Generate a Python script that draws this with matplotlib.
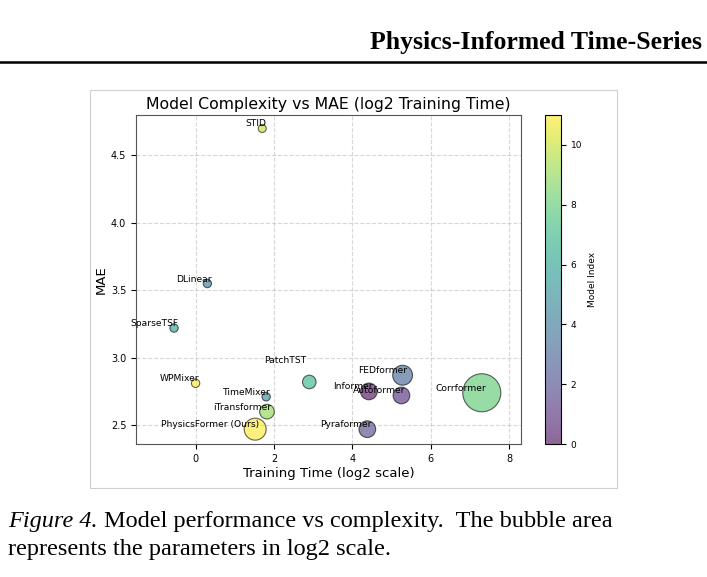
import matplotlib
matplotlib.use("Agg")
import matplotlib.pyplot as plt
from matplotlib.patches import Rectangle

models = ["Informer", "Autoformer", "Pyraformer", "FEDformer", "DLinear", "TimeMixer",
          "SparseTSF", "PatchTST", "Corrformer", "iTransformer", "STID", "WPMixer",
          "PhysicsFormer (Ours)"]
log2_time = [4.42, 5.25, 4.38, 5.28, 0.30, 1.80, -0.55, 2.90, 7.30, 1.82, 1.70, 0.00, 1.52]
mae = [2.75, 2.72, 2.47, 2.87, 3.55, 2.71, 3.22, 2.82, 2.74, 2.60, 4.70, 2.81, 2.47]
bubble = [145, 145, 145, 205, 36, 36, 36, 95, 750, 112, 33, 36, 250]
model_index = [0, 1, 2, 3, 4, 5, 6, 7, 8, 9, 10, 11, 11]

W, H = 707, 577
fig = plt.figure(figsize=(W / 100, H / 100), dpi=100)


def box(l, t, r, b):
    return [l / W, 1 - b / H, (r - l) / W, (b - t) / H]


# page decorations
fig.text(370 / W, 1 - 42 / H, "Physics-Informed Time-Series", family="Liberation Serif",
         weight="bold", fontsize=18.5, va="center", ha="left")
fig.add_artist(plt.Line2D([0, 1], [1 - 62 / H, 1 - 62 / H], color="black", lw=1.8))
fig.add_artist(Rectangle((90 / W, 1 - 488 / H), 527 / W, 398 / H, fill=False,
                         edgecolor="#d0d0d0", lw=0.8))
fig.text(8 / W, 1 - 521 / H, "Figure 4.", family="Liberation Serif", style="italic",
         fontsize=17.5, va="center")
fig.text(104 / W, 1 - 521 / H, "Model performance vs complexity.  The bubble area",
         family="Liberation Serif", fontsize=17.5, va="center")
fig.text(8 / W, 1 - 549 / H, "represents the parameters in log2 scale.",
         family="Liberation Serif", fontsize=17.5, va="center")

ax = fig.add_axes(box(136, 115, 521, 444))
cax = fig.add_axes(box(545, 115, 561, 444))

sc = ax.scatter(log2_time, mae, s=bubble, c=model_index, cmap="viridis", vmin=0, vmax=11,
                alpha=0.6, edgecolors="black", linewidths=0.8, zorder=3)
for name, x, y in zip(models, log2_time, mae):
    if name == "PatchTST":
        ax.annotate(name, (x, y), xytext=(-2, 12), textcoords="offset points",
                    ha="right", va="bottom", fontsize=6.6)
    else:
        ax.annotate(name, (x, y), xytext=(3, 0), textcoords="offset points",
                    ha="right", va="bottom", fontsize=6.6, zorder=4)

ax.set_xlim(-1.52, 8.3)
ax.set_ylim(2.36, 4.80)
ax.set_xticks([0, 2, 4, 6, 8])
ax.set_yticks([2.5, 3.0, 3.5, 4.0, 4.5])
ax.tick_params(labelsize=7)
ax.grid(True, linestyle="--", alpha=0.5)
ax.set_axisbelow(True)
ax.set_xlabel("Training Time (log2 scale)", fontsize=9.5, labelpad=2)
ax.set_ylabel("MAE", fontsize=9.5, labelpad=2)
ax.set_title("Model Complexity vs MAE (log2 Training Time)", fontsize=11.3, pad=4)
for sp in ax.spines.values():
    sp.set_color("#555555")

cb = fig.colorbar(sc, cax=cax)
cb.set_label("Model Index", fontsize=6.5)
cb.ax.tick_params(labelsize=6.5)

fig.savefig("out.png", dpi=100)
